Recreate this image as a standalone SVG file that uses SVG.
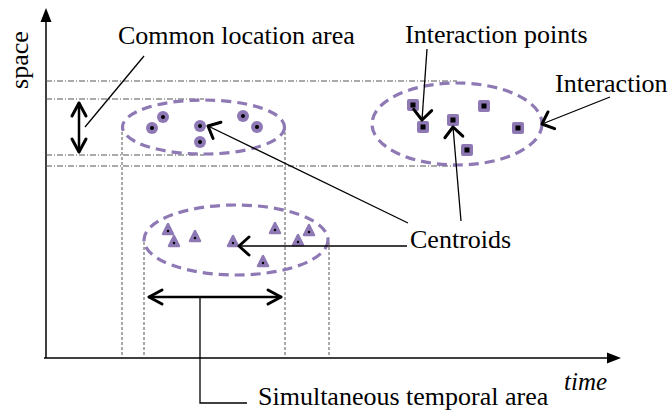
<svg xmlns="http://www.w3.org/2000/svg" width="670" height="411" viewBox="0 0 670 411">
<style>
.dd{stroke:#555;stroke-width:1;fill:none;stroke-dasharray:6 2 1 2}
.dv{stroke:#555;stroke-width:1;fill:none;stroke-dasharray:3 2}
.el{fill:none;stroke:#8e79b5;stroke-width:3.2;stroke-dasharray:10 6}
.ln{stroke:#000;stroke-width:1.3;fill:none}
.ch{stroke:#000;stroke-width:3;fill:none;stroke-linecap:round;stroke-linejoin:round}
.cp{fill:#8e79b5}
.sq{fill:#8e79b5}
.tr{fill:#8e79b5;stroke:#8e79b5;stroke-width:2.5;stroke-linejoin:round}
</style>
<defs>
<marker id="chev" markerUnits="userSpaceOnUse" markerWidth="24" markerHeight="24" refX="0" refY="0" viewBox="-14 -12 16 24" orient="auto">
<path d="M-10,-9 L0,0 L-10,9" class="ch"/>
</marker>
<marker id="chevs" markerUnits="userSpaceOnUse" markerWidth="24" markerHeight="24" refX="0" refY="0" viewBox="-16 -12 18 24" orient="auto">
<path d="M-13,-7 L0,0 L-13,7" class="ch"/>
</marker>
<marker id="chevsStart" markerUnits="userSpaceOnUse" markerWidth="24" markerHeight="24" refX="0" refY="0" viewBox="-2 -12 18 24" orient="auto">
<path d="M13,-7 L0,0 L13,7" class="ch"/>
</marker>
</defs>

<g id="axes">
<line x1="46" y1="358" x2="46" y2="20" stroke="#000" stroke-width="1.5"/>
<polygon points="46,8 40.5,22 51.5,22" fill="#000"/>
<line x1="44" y1="358" x2="610" y2="358" stroke="#000" stroke-width="1.5"/>
<polygon points="621,358 607,352.5 607,363.5" fill="#000"/>
<text font-family="'Liberation Serif', serif" font-size="26" transform="translate(28,60) rotate(-90)" text-anchor="middle">space</text>
<text font-family="'Liberation Serif', serif" font-size="25" x="564" y="390" font-style="italic">time</text>
</g>

<g id="guides">
<line class="dd" x1="46" y1="81" x2="457" y2="81"/>
<line class="dd" x1="46" y1="99" x2="204" y2="99"/>
<line class="dd" x1="46" y1="155" x2="204" y2="155"/>
<line class="dd" x1="46" y1="166" x2="457" y2="166"/>
<line class="dv" x1="122" y1="127" x2="122" y2="355"/>
<line class="dv" x1="285" y1="127" x2="285" y2="355"/>
<line class="dv" x1="144" y1="242" x2="144" y2="355"/>
<line class="dv" x1="329" y1="242" x2="329" y2="355"/>
</g>

<g id="common-location-cluster">
<ellipse class="el" cx="203.5" cy="127" rx="81" ry="27"/>
<g class="cp">
<circle cx="152" cy="128" r="6"/><circle cx="163" cy="117" r="6"/><circle cx="200" cy="126" r="6"/>
<circle cx="200" cy="142" r="6"/><circle cx="243" cy="116" r="6"/><circle cx="257" cy="127" r="6"/>
</g>
<g fill="#000">
<circle cx="152" cy="128" r="2"/><circle cx="163" cy="117" r="2"/><circle cx="200" cy="126" r="2"/>
<circle cx="200" cy="142" r="2"/><circle cx="243" cy="116" r="2"/><circle cx="257" cy="127" r="2"/>
</g>
</g>

<g id="interaction-cluster">
<ellipse class="el" cx="457" cy="124" rx="85" ry="41"/>
<g class="sq">
<rect x="407" y="99" width="12" height="12" rx="2"/><rect x="417" y="121" width="12" height="12" rx="2"/>
<rect x="447" y="114" width="12" height="12" rx="2"/><rect x="478" y="100" width="12" height="12" rx="2"/>
<rect x="512" y="122" width="12" height="12" rx="2"/><rect x="461" y="144" width="12" height="12" rx="2"/>
</g>
<g fill="#000">
<rect x="410.5" y="102.5" width="5" height="5"/><rect x="420.5" y="124.5" width="5" height="5"/>
<rect x="450.5" y="117.5" width="5" height="5"/><rect x="481.5" y="103.5" width="5" height="5"/>
<rect x="515.5" y="125.5" width="5" height="5"/><rect x="464.5" y="147.5" width="5" height="5"/>
</g>
</g>

<g id="temporal-cluster">
<ellipse class="el" cx="236" cy="240" rx="92" ry="35"/>
<g class="tr">
<polygon points="168,224 163,234 173,234"/><polygon points="174,236 169,246 179,246"/>
<polygon points="195,231 190,241 200,241"/><polygon points="233,236 228,246 238,246"/>
<polygon points="275,223 270,233 280,233"/><polygon points="298,235 293,245 303,245"/>
<polygon points="309,225 304,235 314,235"/><polygon points="263,256 258,266 268,266"/>
</g>
<g fill="#000">
<circle cx="168" cy="231" r="1.2"/><circle cx="174" cy="243" r="1.2"/><circle cx="195" cy="238" r="1.2"/>
<circle cx="233" cy="243" r="1.2"/><circle cx="275" cy="230" r="1.2"/><circle cx="298" cy="242" r="1.2"/>
<circle cx="309" cy="232" r="1.2"/><circle cx="263" cy="263" r="1.2"/>
</g>
</g>

<g id="label-common-location">
<text font-family="'Liberation Serif', serif" font-size="26" x="118" y="44">Common location area</text>
</g>
<g id="label-interaction-points">
<text font-family="'Liberation Serif', serif" font-size="26" x="405" y="43">Interaction points</text>
</g>
<g id="label-interaction">
<text font-family="'Liberation Serif', serif" font-size="26" x="555" y="92">Interaction</text>
</g>
<g id="label-centroids">
<text font-family="'Liberation Serif', serif" font-size="26" x="410" y="248">Centroids</text>
</g>
<g id="label-simultaneous">
<text font-family="'Liberation Serif', serif" font-size="26" x="258" y="405">Simultaneous temporal area</text>
</g>

<g id="connectors">
<line class="ln" x1="144" y1="56" x2="85" y2="127"/>
<line class="ch" x1="79" y1="103" x2="79" y2="152" style="stroke-width:2.5" marker-start="url(#chevsStart)" marker-end="url(#chevs)"/>
<line class="ln" x1="408" y1="223" x2="208" y2="126" marker-end="url(#chev)"/>
<line class="ln" x1="407" y1="246" x2="239" y2="246" marker-end="url(#chev)"/>
<line class="ln" x1="461" y1="221" x2="453" y2="127" marker-end="url(#chev)"/>
<line class="ln" x1="427" y1="49" x2="422" y2="120" marker-end="url(#chev)"/>
<line class="ln" x1="610" y1="97" x2="542" y2="124" marker-end="url(#chev)"/>
<line class="ch" x1="149" y1="297" x2="281" y2="297" style="stroke-width:2.5" marker-start="url(#chevsStart)" marker-end="url(#chevs)"/>
<polyline class="ln" points="200,297 200,403 247,403"/>
</g>
</svg>
